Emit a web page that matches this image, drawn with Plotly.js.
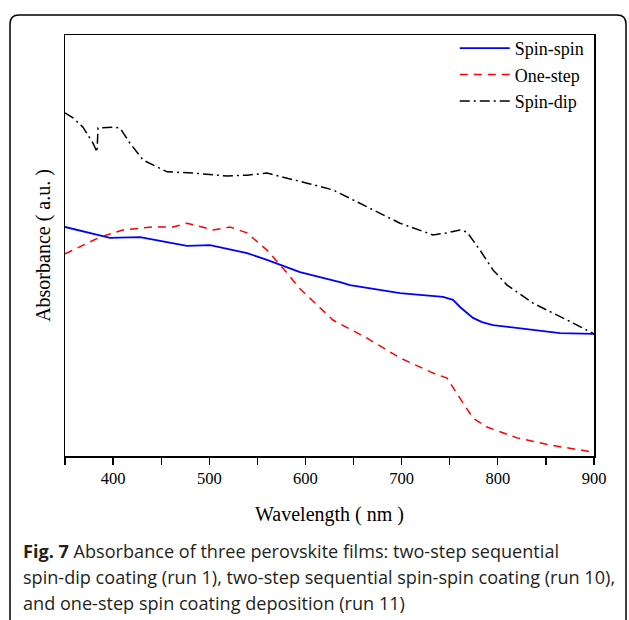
<!DOCTYPE html>
<html>
<head>
<meta charset="utf-8">
<script src="https://cdn.plot.ly/plotly-3.0.1.min.js"></script>
<style>html,body{margin:0;padding:0;background:#fff;}#chart{width:629px;height:620px;}</style>
</head>
<body>
<div id="chart"></div>
<script>
// Wavelength (nm) and absorbance (a.u.)
const spinSpinX = [350, 368.7, 386.4, 396.8, 428, 445.7, 476.8, 500.8, 518.4, 539.2, 560, 573.5, 594.3, 635.9, 646.3, 698.3, 743, 753.4, 760.7, 774.2, 783.6, 795, 830.4, 857.4, 864.7, 900];
const spinSpinY = [0.544, 0.534, 0.525, 0.518, 0.520, 0.513, 0.499, 0.501, 0.492, 0.482, 0.466, 0.454, 0.437, 0.413, 0.406, 0.387, 0.378, 0.371, 0.354, 0.328, 0.318, 0.311, 0.302, 0.295, 0.292, 0.290];

const oneStepX = [350, 386.4, 410.3, 441.5, 462.3, 476.8, 503.9, 521.6, 539.2, 560, 580.8, 594.3, 628.6, 664, 698.3, 732.6, 747.2, 753.4, 763.8, 774.2, 788.8, 820, 854.3, 900];
const oneStepY = [0.480, 0.520, 0.537, 0.544, 0.544, 0.553, 0.537, 0.544, 0.530, 0.489, 0.435, 0.397, 0.323, 0.280, 0.233, 0.197, 0.185, 0.164, 0.126, 0.090, 0.069, 0.043, 0.026, 0.009];

const spinDipX = [350, 358.3, 368.7, 379.1, 383.3, 384.3, 399.9, 407.2, 417.6, 431.1, 456.1, 483.1, 518.4, 539.2, 560, 576.7, 601.6, 628.6, 664, 698.3, 732.6, 747.2, 760.7, 768, 781.5, 795, 809.6, 836.6, 872, 900];
const spinDipY = [0.815, 0.803, 0.781, 0.743, 0.722, 0.779, 0.781, 0.779, 0.743, 0.703, 0.675, 0.672, 0.665, 0.667, 0.672, 0.663, 0.648, 0.632, 0.591, 0.553, 0.525, 0.530, 0.537, 0.532, 0.489, 0.442, 0.406, 0.363, 0.323, 0.290];

const seriesNames = ['Spin-spin', 'One-step', 'Spin-dip'];
const tickVals = [400, 500, 600, 700, 800, 900];
const tickText = ['400', '500', '600', '700', '800', '900'];
const captionLines = [
  '<b>Fig. 7</b> Absorbance of three perovskite films: two-step sequential',
  'spin-dip coating (run 1), two-step sequential spin-spin coating (run 10),',
  'and one-step spin coating deposition (run 11)'
];

const serif = 'Liberation Serif';

const traces = [
  {x: spinSpinX, y: spinSpinY, name: seriesNames[0], type: 'scatter', mode: 'lines',
   line: {color: '#0000ff', width: 1.8}},
  {x: oneStepX, y: oneStepY, name: seriesNames[1], type: 'scatter', mode: 'lines',
   line: {color: '#ff0000', width: 1.5, dash: '8px,6px'}},
  {x: spinDipX, y: spinDipY, name: seriesNames[2], type: 'scatter', mode: 'lines',
   line: {color: '#000000', width: 1.5, dash: '10px,4px,2px,4px'}}
];

// caption positions in paper coordinates
const capY = [551, 577, 603];
const toPX = px => (px - 65) / 529;
const toPY = py => (456 - py) / 421;

const annotations = captionLines.map((t, i) => ({
  text: t, xref: 'paper', yref: 'paper', x: toPX(21), y: toPY(capY[i]),
  xanchor: 'left', yanchor: 'middle', showarrow: false, align: 'left',
  font: {family: 'Open Sans', size: 18.1, color: '#231f20'}
}));

const x0 = toPX(10), x1 = toPX(626), yt = toPY(15), yb = toPY(640);
const rx = 9 / 529, ry = 9 / 421;
const borderPath = `M ${x0} ${yb} L ${x0} ${yt - ry} Q ${x0} ${yt} ${x0 + rx} ${yt} L ${x1 - rx} ${yt} Q ${x1} ${yt} ${x1} ${yt - ry} L ${x1} ${yb}`;

const layout = {
  width: 629, height: 620,
  margin: {l: 65, r: 35, t: 35, b: 164},
  paper_bgcolor: '#fff', plot_bgcolor: '#fff',
  font: {family: serif, color: '#000'},
  showlegend: true,
  legend: {x: 0.992, y: 1.012, xanchor: 'right', yanchor: 'top', bgcolor: 'rgba(0,0,0,0)',
           font: {family: serif, size: 18, color: '#000'}, itemwidth: 50, tracegroupgap: 0},
  xaxis: {
    range: [350, 900], showgrid: false, zeroline: false,
    showline: true, linecolor: '#000', linewidth: 1.5, mirror: true,
    tickmode: 'array', tickvals: tickVals, ticktext: tickText,
    ticks: 'outside', ticklen: 7, tickwidth: 1.3, tickcolor: '#000',
    minor: {tickmode: 'linear', tick0: 350, dtick: 50, ticks: 'outside', ticklen: 7, tickwidth: 1.3, tickcolor: '#000', showgrid: false},
    tickfont: {family: serif, size: 16.5, color: '#000'},
    title: {text: 'Wavelength ( nm )', font: {family: serif, size: 20, color: '#000'}, standoff: 19}
  },
  yaxis: {
    range: [0, 1], showgrid: false, zeroline: false,
    showline: true, linecolor: '#000', linewidth: 1.5, mirror: true,
    ticks: '', showticklabels: false,
    title: {text: 'Absorbance ( a.u. )', font: {family: serif, size: 20, color: '#000'}, standoff: 7}
  },
  annotations: annotations,
  shapes: [{type: 'path', xref: 'paper', yref: 'paper', path: borderPath,
            line: {color: '#000', width: 1.5}, fillcolor: 'rgba(0,0,0,0)'}]
};

Plotly.newPlot('chart', traces, layout, {displayModeBar: false, staticPlot: true});
</script>
</body>
</html>
